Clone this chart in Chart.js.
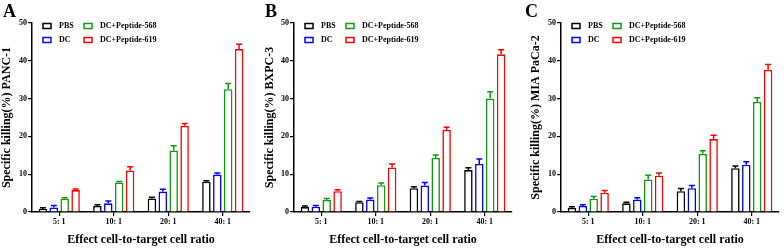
<!DOCTYPE html>
<html>
<head>
<meta charset="utf-8">
<script src="https://cdn.jsdelivr.net/npm/chart.js@4.4.0/dist/chart.umd.min.js"></script>
<style>
  body { margin: 0; background: #fff; }
  #wrap { position: relative; width: 784px; height: 250px; }
  canvas { position: absolute; top: 0; }
</style>
</head>
<body>
<div id="wrap">
  <canvas id="chartA" width="262" height="250" style="left:0px"></canvas>
  <canvas id="chartB" width="260" height="250" style="left:262px"></canvas>
  <canvas id="chartC" width="262" height="250" style="left:522px"></canvas>
</div>
<script>
// categories and series
const categories = ['5: 1', '10: 1', '20: 1', '40: 1'];
const seriesNames = ['PBS', 'DC', 'DC+Peptide-568', 'DC+Peptide-619'];
const seriesColors = ['#000000', '#0000ff', '#119911', '#ff0000'];
const yTicks = [0, 10, 20, 30, 40, 50];

// panel A - PANC-1 (means, then SEM)
const panc1PBS = [0.8, 1.6, 3.6, 8.0];
const panc1DC = [1.2, 2.3, 5.4, 9.9];
const panc1P568 = [3.5, 7.8, 16.3, 32.5];
const panc1P619 = [5.8, 11.0, 22.8, 43.1];
const panc1ErrPBS = [0.3, 0.3, 0.3, 0.3];
const panc1ErrDC = [0.5, 0.6, 0.6, 0.4];
const panc1Err568 = [0.3, 0.3, 1.2, 1.5];
const panc1Err619 = [0.3, 1.0, 0.6, 1.3];

// panel B - BXPC-3
const bxpc3PBS = [1.3, 2.6, 6.3, 11.1];
const bxpc3DC = [1.4, 3.3, 7.0, 12.7];
const bxpc3P568 = [3.2, 7.1, 14.3, 30.0];
const bxpc3P619 = [5.5, 11.8, 21.7, 41.7];
const bxpc3ErrPBS = [0.3, 0.2, 0.4, 0.6];
const bxpc3ErrDC = [0.3, 0.4, 0.8, 1.3];
const bxpc3Err568 = [0.4, 0.6, 0.8, 1.8];
const bxpc3Err619 = [0.4, 0.9, 0.7, 1.2];

// panel C - MIA PaCa-2
const miaPBS = [1.1, 2.3, 5.5, 11.6];
const miaDC = [1.6, 3.3, 6.3, 12.5];
const miaP568 = [3.5, 8.6, 15.4, 29.1];
const miaP619 = [5.1, 9.6, 19.3, 37.6];
const miaErrPBS = [0.3, 0.3, 0.7, 0.6];
const miaErrDC = [0.3, 0.5, 0.7, 0.8];
const miaErr568 = [0.6, 1.1, 0.8, 1.1];
const miaErr619 = [0.6, 0.7, 1.0, 1.4];

const FONT = "'Liberation Serif', 'Times New Roman', serif";

// upper error bars with a cap
const errorBarPlugin = {
  id: 'errorBars',
  afterDatasetsDraw(chart) {
    const ctx = chart.ctx;
    const yScale = chart.scales.y;
    chart.data.datasets.forEach((ds, i) => {
      const meta = chart.getDatasetMeta(i);
      meta.data.forEach((bar, j) => {
        const top = yScale.getPixelForValue(ds.data[j] + ds.errors[j]);
        ctx.save();
        ctx.strokeStyle = ds.borderColor;
        ctx.lineWidth = 1.5;
        ctx.beginPath();
        ctx.moveTo(bar.x, bar.y);
        ctx.lineTo(bar.x, top);
        ctx.moveTo(bar.x - 3, top);
        ctx.lineTo(bar.x + 3, top);
        ctx.stroke();
        ctx.restore();
      });
    });
  }
};

// two-column legend inside the plot + panel letter
const panelDecorPlugin = {
  id: 'panelDecor',
  afterDraw(chart, args, opts) {
    const ctx = chart.ctx;
    const area = chart.chartArea;
    ctx.save();
    ctx.fillStyle = '#000';
    ctx.font = 'bold 18px ' + FONT;
    ctx.textBaseline = 'alphabetic';
    ctx.fillText(opts.letter, 3, 17);

    const cols = [[0, 1], [2, 3]];
    const colX = [area.left + 11, area.left + 52];
    const rowY = [26, 40];
    ctx.font = 'bold 8px ' + FONT;
    ctx.textBaseline = 'middle';
    cols.forEach((idxs, c) => {
      idxs.forEach((di, r) => {
        const ds = chart.data.datasets[di];
        ctx.strokeStyle = ds.borderColor;
        ctx.lineWidth = 1.5;
        ctx.strokeRect(colX[c], rowY[r] - 2.5, 8, 5);
        ctx.fillStyle = '#000';
        ctx.fillText(ds.label, colX[c] + 16, rowY[r]);
      });
    });
    ctx.restore();
  }
};

function makePanel(id, letter, cellName, values, errors, yWidth, titlePad, rightPad) {
  const ctx = document.getElementById(id).getContext('2d');
  return new Chart(ctx, {
    type: 'bar',
    data: {
      labels: categories,
      datasets: seriesNames.map((name, i) => ({
        label: name,
        data: values[i],
        errors: errors[i],
        backgroundColor: 'rgba(255,255,255,1)',
        borderColor: seriesColors[i],
        borderWidth: 1.6,
        borderSkipped: 'bottom',
        categoryPercentage: 0.8,
        barPercentage: 0.78
      }))
    },
    options: {
      responsive: false,
      animation: false,
      layout: { padding: { left: 0, right: rightPad, top: 23, bottom: 0 } },
      plugins: {
        legend: { display: false },
        tooltip: { enabled: false },
        panelDecor: { letter: letter }
      },
      scales: {
        x: {
          grid: { display: true, drawOnChartArea: false, offset: false, tickLength: 4, color: '#000', lineWidth: 1.2 },
          border: { display: true, color: '#000', width: 1.5 },
          ticks: { color: '#000', font: { family: FONT, size: 8, weight: 'bold' }, padding: 1, maxRotation: 0 },
          title: {
            display: true,
            text: 'Effect cell-to-target cell ratio',
            color: '#000',
            font: { family: FONT, size: 12, weight: 'bold' },
            padding: { top: 0, bottom: 3 }
          },
          afterFit: s => { s.height = 38; }
        },
        y: {
          min: 0,
          max: 50,
          afterBuildTicks: s => { s.ticks = yTicks.map(v => ({ value: v })); },
          grid: { display: true, drawOnChartArea: false, tickLength: 4, color: '#000', lineWidth: 1.2 },
          border: { display: true, color: '#000', width: 1.5 },
          ticks: { color: '#000', font: { family: FONT, size: 8, weight: 'bold' }, padding: 1 },
          title: {
            display: true,
            text: 'Specific killing(%) ' + cellName,
            color: '#000',
            font: { family: FONT, size: 12, weight: 'bold' },
            padding: { top: titlePad, bottom: 0 }
          },
          afterFit: s => { s.width = yWidth; }
        }
      }
    },
    plugins: [errorBarPlugin, panelDecorPlugin]
  });
}

makePanel('chartA', 'A', 'PANC-1',
  [panc1PBS, panc1DC, panc1P568, panc1P619],
  [panc1ErrPBS, panc1ErrDC, panc1Err568, panc1Err619], 32, 0, 12);
makePanel('chartB', 'B', 'BXPC-3',
  [bxpc3PBS, bxpc3DC, bxpc3P568, bxpc3P619],
  [bxpc3ErrPBS, bxpc3ErrDC, bxpc3Err568, bxpc3Err619], 32, 1, 10);
makePanel('chartC', 'C', 'MIA PaCa-2',
  [miaPBS, miaDC, miaP568, miaP619],
  [miaErrPBS, miaErrDC, miaErr568, miaErr619], 39, 7, 5);
</script>
</body>
</html>
